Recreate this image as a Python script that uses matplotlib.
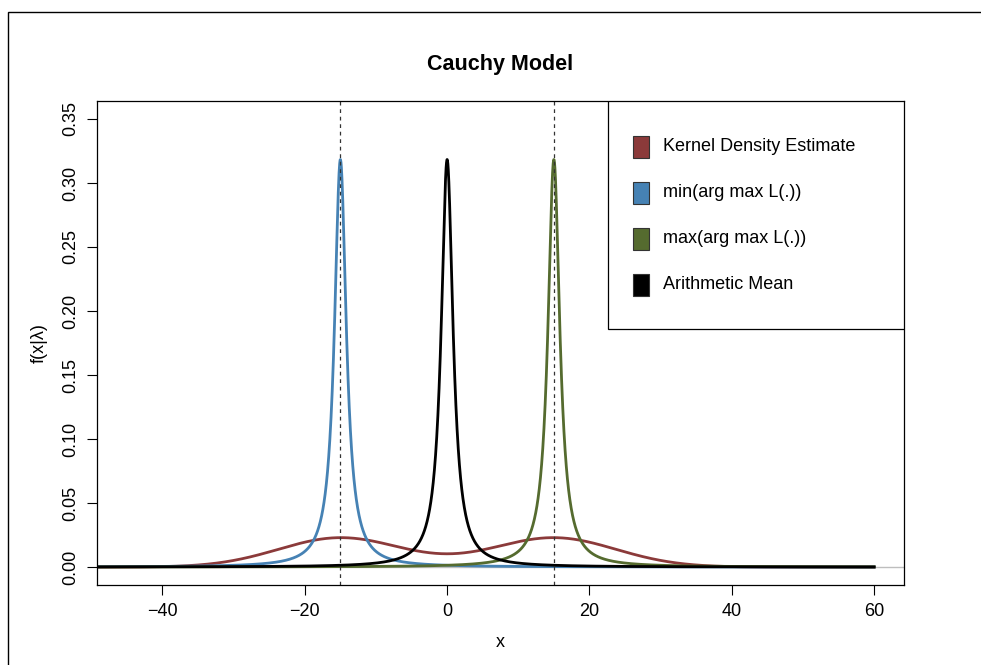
"""Cauchy model: fitted densities vs kernel density estimate."""
import numpy as np
import matplotlib
matplotlib.use("Agg")
import matplotlib.pyplot as plt  # noqa: E402
from matplotlib.patches import Rectangle  # noqa: E402

plt.rcParams["font.family"] = ["Liberation Sans", "DejaVu Sans"]
plt.rcParams["font.size"] = 13

# Cauchy fits: location / scale (peak = 1/pi -> scale 1)
CAUCHY_LABELS = ["min(arg max L(.))", "max(arg max L(.))", "Arithmetic Mean"]
CAUCHY_LOC = [-15.0, 15.0, 0.0]
CAUCHY_SCALE = [1.0, 1.0, 1.0]
CAUCHY_COLORS = ["#4682B4", "#556B2F", "#000000"]

# kernel density estimate: two bumps (~0.023 at +-15, ~0.011 at 0)
KDE_LABEL = "Kernel Density Estimate"
KDE_MEANS = [-15.0, 15.0]
KDE_SD = [8.7, 8.7]
KDE_WEIGHTS = [0.5, 0.5]
KDE_COLOR = "#8B3A3A"

VLINES = [-15, 15]
X_RANGE = (-50, 60)
X_TICKS = [-40, -20, 0, 20, 40, 60]
Y_TICKS = [0.00, 0.05, 0.10, 0.15, 0.20, 0.25, 0.30, 0.35]


def cauchy_pdf(x, loc, scale):
    return 1.0 / (np.pi * scale * (1 + ((x - loc) / scale) ** 2))


def kde_curve(x):
    y = np.zeros_like(x)
    for m, s, w in zip(KDE_MEANS, KDE_SD, KDE_WEIGHTS):
        y += w * np.exp(-0.5 * ((x - m) / s) ** 2) / (s * np.sqrt(2 * np.pi))
    return y


fig = plt.figure(figsize=(9.81, 6.65), dpi=100)
# outer device box (R-style)
fig.patches.append(Rectangle((8 / 981, -0.1), 1.2, (665 - 12) / 665 + 0.1,
                             transform=fig.transFigure, fill=False,
                             edgecolor="black", lw=1.0))
ax = fig.add_axes([97 / 981, 80 / 665, 807 / 981, 484 / 665])

x = np.linspace(X_RANGE[0], X_RANGE[1], 4001)
ax.plot(x, kde_curve(x), color=KDE_COLOR, lw=2.0)
for loc, sc, c in zip(CAUCHY_LOC, CAUCHY_SCALE, CAUCHY_COLORS):
    ax.plot(x, cauchy_pdf(x, loc, sc), color=c, lw=2.0)

ax.axhline(0, color="#bebebe", lw=1.0, zorder=0)
for v in VLINES:
    ax.axvline(v, color="#333333", lw=0.9, ls=(0, (3, 3)))

ax.set_xlim(-49.2, 64.2)
ax.set_ylim(-0.014, 0.364)
ax.set_xticks(X_TICKS)
ax.set_xticklabels(["\u221240", "\u221220", "0", "20", "40", "60"])
ax.set_yticks(Y_TICKS)
ax.set_yticklabels([f"{v:.2f}" for v in Y_TICKS], rotation=90, va="center")
ax.tick_params(direction="out", length=7, width=0.8, pad=6)
for s in ax.spines.values():
    s.set_linewidth(0.9)

ax.set_xlabel("x", labelpad=10)
ax.set_ylabel("f(x|\u03bb)", labelpad=10)
ax.set_title("Cauchy Model", fontsize=15.5, fontweight="bold", pad=22)

# R-style legend box in the top-right corner (axes fraction coordinates)
ax.add_patch(Rectangle((0.633, 0.529), 0.367, 0.471, transform=ax.transAxes,
                       facecolor="white", edgecolor="black", lw=0.9, zorder=5))
labels = [KDE_LABEL] + CAUCHY_LABELS
colors = [KDE_COLOR] + CAUCHY_COLORS
for i, (lab, c) in enumerate(zip(labels, colors)):
    yc = 0.905 - i * 0.095
    ax.add_patch(Rectangle((0.6642, yc - 0.0227), 0.0198, 0.0454,
                           transform=ax.transAxes, facecolor=c,
                           edgecolor="#333333", lw=0.8, zorder=6))
    ax.text(0.7014, yc, lab, transform=ax.transAxes, va="center", ha="left",
            zorder=7)

fig.savefig("out.png", dpi=100)
